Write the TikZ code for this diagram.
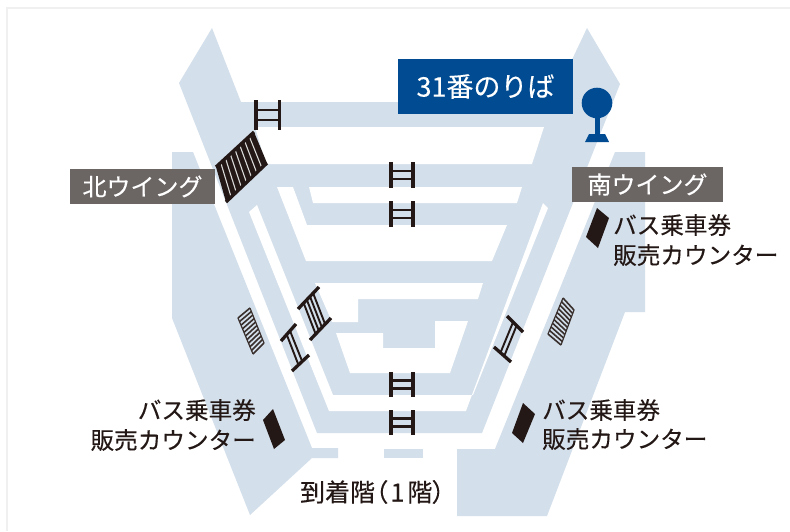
\documentclass[tikz,border=0pt]{standalone}
\usepackage{fontspec}
\usetikzlibrary{calc}
\setmainfont{Noto Sans CJK JP}[FakeBold=0.25]
\newfontfamily\palfont[RawFeature=+palt,FakeBold=0.25]{Noto Sans CJK JP}
\definecolor{floorblue}{RGB}{211,223,235}
\definecolor{tagbrown}{RGB}{107,101,100}
\definecolor{navy}{RGB}{0,75,146}
\definecolor{inkblack}{RGB}{35,24,21}
\tikzset{
  floorpart/.style={fill=floorblue,draw=none},
  cutout/.style={fill=white,draw=none},
  rail/.style={draw=inkblack,line width=3.3pt},
  rung/.style={draw=inkblack,line width=2.4pt},
  countermark/.style={fill=inkblack,draw=none},
  tag/.style={fill=tagbrown,text=white,inner sep=0pt,minimum height=35pt,font=\fontsize{24}{24}\selectfont},
  lbl/.style={text=inkblack,inner sep=0pt,font=\fontsize{23.6}{24}\selectfont}
}
\newcommand{\ladderH}[4]{% xleft xright ytop ybottom, two rungs
  \draw[rail] (#1,#3) -- (#1,#4);
  \draw[rail] (#2,#3) -- (#2,#4);
  \draw[rung] (#1,{#3+(#4-#3)*0.34}) -- (#2,{#3+(#4-#3)*0.34});
  \draw[rung] (#1,{#3+(#4-#3)*0.66}) -- (#2,{#3+(#4-#3)*0.66});
}
\newcommand{\ladderD}[9]{% a1 a2 / b1 b2 rails, #9 = list of fractions
  \coordinate (a1) at (#1,#2); \coordinate (a2) at (#3,#4);
  \coordinate (b1) at (#5,#6); \coordinate (b2) at (#7,#8);
  \foreach \t in {#9} {\draw[rung,line width=1.9pt] ($(a1)!\t!(a2)$) -- ($(b1)!\t!(b2)$);}
  \draw[rail] (a1) -- (a2);
  \draw[rail] (b1) -- (b2);
}
\begin{document}
\begin{tikzpicture}[x=1pt,y=-1pt]
\useasboundingbox (0,0) rectangle (790,531);
\fill[white] (0,0) rectangle (790,531);
\draw[black!6,line width=1.2pt] (7,531) -- (7,8) -- (790,8);
% floor silhouette
\fill[floorpart] (212,28) -- (241,102) -- (552,102) -- (587,28) -- (620,84) -- (482,433) -- (317,433) -- (179,83) -- cycle;
\fill[floorpart] (172,152) -- (193,152) -- (312,448) -- (338,448) -- (338,458) -- (312,458) -- (250,515) -- (172,318) -- cycle;
\fill[floorpart] (384,449) rectangle (423,458);
\fill[floorpart] (615,152) -- (645,152) -- (645,312) -- (625,312) -- (547,516) -- (457,516) -- (457,449) -- (495,449) -- cycle;
% light wells
\fill[cutout] (255,127) -- (544,127) -- (532,164) -- (266,164) -- cycle;
\fill[cutout] (309,187) -- (522,187) -- (517,203) -- (313,203) -- cycle;
\fill[cutout] (277,187) -- (293,187) -- (307,225) -- (507,225) -- (492,261) -- (306,261) -- cycle;
\fill[cutout] (315,283) -- (483,283) -- (478,299) -- (358,299) -- (358,322) -- (332,322) -- cycle;
\fill[cutout] (336,333) -- (383,333) -- (383,348) -- (435,348) -- (435,321) -- (468,321) -- (450,373) -- (350,373) -- cycle;
\fill[cutout] (249,212) -- (257,205) -- (333,395) -- (473,395) -- (548,208) -- (543,203) -- (466,411) -- (329,411) -- cycle;
% straight stairs
\ladderH{256}{279.5}{100}{130}
\ladderH{391}{413}{162}{188}
\ladderH{391}{413}{201}{227}
\ladderH{391}{413}{372}{397}
\ladderH{391}{413}{410}{435}
% north wing escalator block
\fill[inkblack] (254,132) -- (267,163) -- (226,202) -- (216,167) -- cycle;
\foreach \t in {0.125,0.25,0.375,0.5,0.625,0.75,0.875} {
  \draw[white!85!black,line width=1.1pt] ($(216,167)!\t!(254,132)$) -- ($(226,202)!\t!(267,163)$);
}
\draw[rail] (254,132) -- (216,167);
\draw[rail] (267,163) -- (226,202);
% diagonal stairs
\ladderD{298}{309}{319}{287}{310}{340}{331}{318}{0.27,0.42,0.57,0.72}
\ladderD{281}{341}{296}{324}{292}{371}{309}{355}{0.38,0.6}
\ladderD{507}{316}{523}{332}{494}{347}{511}{362}{0.38,0.6}
% hatched escalators
\fill[floorblue] (238,318) -- (250,308) -- (264,343) -- (253,354) -- cycle;
\foreach \t in {0,0.1,...,1.01} {\draw[inkblack!90,line width=1.6pt] ($(238,318)!\t!(253,354)$) -- ($(250,308)!\t!(264,343)$);}
\draw[inkblack!90,line width=1.2pt] (238,318) -- (253,354) (250,308) -- (264,343);
\fill[floorblue] (563,298) -- (574,310) -- (561,345) -- (548,334) -- cycle;
\foreach \t in {0,0.1,...,1.01} {\draw[inkblack!90,line width=1.6pt] ($(563,298)!\t!(548,334)$) -- ($(574,310)!\t!(561,345)$);}
\draw[inkblack!90,line width=1.2pt] (563,298) -- (548,334) (574,310) -- (561,345);
% ticket counters
\fill[countermark] (273,409) -- (285,440) -- (274,449) -- (263,420) -- cycle;
\fill[countermark] (523,403) -- (535,414) -- (523,443) -- (512,433) -- cycle;
\fill[countermark] (597,208) -- (609,218) -- (598,248) -- (586,237) -- cycle;
% bus stop sign
\fill[navy] (597,103) circle (15.3);
\fill[navy] (594.5,115) rectangle (599.5,136);
\fill[navy] (585,142) -- (609,142) -- (605,134) -- (589,134) -- cycle;
% labels
\node[fill=navy,text=white,inner sep=0pt,minimum width=175pt,minimum height=55pt,font=\fontsize{27}{27}\selectfont] (stop) at (485.5,86.5) {31番のりば};
\node[tag,minimum width=145pt] (north) at (142.5,186.5) {北ウイング};
\node[tag,minimum width=151pt] (south) at (647.5,184.5) {南ウイング};
\node[lbl,anchor=west] (ca) at (613,225) {バス乗車券};
\node[lbl,anchor=west] (cb) at (613,255) {販売カウンター};
\node[lbl,anchor=east] (da) at (256,410) {バス乗車券};
\node[lbl,anchor=east] (db) at (256,440) {販売カウンター};
\node[lbl,anchor=west] (ea) at (542,410) {バス乗車券};
\node[lbl,anchor=west] (eb) at (542,439) {販売カウンター};
\node[lbl,font=\fontsize{25}{25}\selectfont\palfont] (floor) at (372.5,492) {到着階（\hspace{3pt}1\hspace{3pt}階）};
\end{tikzpicture}
\end{document}
